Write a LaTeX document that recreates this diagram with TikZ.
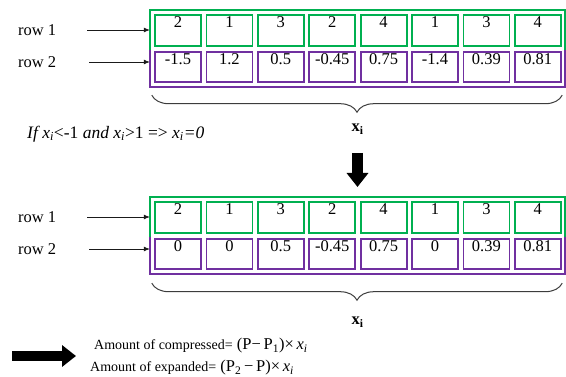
\documentclass[tikz,border=0pt]{standalone}
\usepackage{fontspec}
\setmainfont{Liberation Serif}
\usetikzlibrary{arrows.meta,decorations.pathreplacing}
\definecolor{Grn}{HTML}{00B050}
\definecolor{Prp}{HTML}{7030A0}
\definecolor{Ink}{HTML}{1A1A1A}

\begin{document}
\begin{tikzpicture}[
  x=1pt, y=-1pt,
  font=\fontsize{16.5}{19}\selectfont,
  >=Latex,
  lbl/.style={inner sep=0pt, anchor=west},
  frm/.style={inner sep=0pt, minimum width=415pt},
  gline/.style={draw=Grn, line width=1.5pt},
  pline/.style={draw=Prp, line width=1.5pt},
  cellg/.style={draw=Grn, fill=white, line width=1.8pt, inner xsep=0pt, inner ysep=3pt, minimum width=46pt, text height=10pt, text depth=15pt},
  cellp/.style={draw=Prp, fill=white, line width=1.8pt, inner xsep=0pt, inner ysep=3pt, minimum width=46pt, text height=10pt, text depth=14pt},
  rarr/.style={-{Latex[length=6pt,width=5pt]}, line width=0.7pt, draw=Ink},
  brc/.style={draw=Ink!85, line width=1pt, decorate, decoration={brace, mirror, amplitude=17pt}},
  fatarr/.style={draw=black, line width=11pt, -{Triangle[length=14pt,width=21pt]}},
]
\useasboundingbox (0,0) rectangle (566,377);

% first table
\node[frm, minimum height=40pt] (g1) at (357.5,30) {};
\node[frm, minimum height=37pt] (p1) at (357.5,68.5) {};
\draw[gline] (g1.south west) |- (g1.north east) -- (g1.south east);
\draw[pline] (p1.north west) |- (p1.south east) -- (p1.north east);
\foreach \v [count=\i from 0] in {2,1,3,2,4,1,3,4}
  \node[cellg] (a\i) at (178+51.4*\i,30.5) {\v};
\foreach \v [count=\i from 0] in {-1.5,1.2,0.5,-0.45,0.75,-1.4,0.39,0.81}
  \node[cellp] (b\i) at (178+51.4*\i,67) {\v};

\node[lbl] (r1) at (18,30) {row 1};
\node[lbl] (r2) at (18,62) {row 2};
\coordinate (s1) at (87,30);
\coordinate (s2) at (89,62);
\draw[rarr] (s1) -- (g1.west |- r1);
\draw[rarr] (s2) -- (p1.west |- r2);

\draw[brc] ([xshift=2pt,yshift=-8pt]p1.south west) -- ([xshift=-3pt,yshift=-8pt]p1.south east);
\node (xa) at (357.5,129) {\textbf{x}\textsubscript{\textbf{i}}};

\node[lbl, font=\fontsize{17.5}{20}\selectfont] (rule) at (27,134) {\textit{If x\textsubscript{i}}<-1 \textit{and x\textsubscript{i}}>1 => \textit{x\textsubscript{i}=0}};

\coordinate (d0) at (357.5,153);
\coordinate (d1) at (357.5,187);
\draw[fatarr] (d0) -- (d1);

% second table
\node[frm, minimum height=40pt] (g2) at (357.5,217) {};
\node[frm, minimum height=37pt] (p2) at (357.5,255.5) {};
\draw[gline] (g2.south west) |- (g2.north east) -- (g2.south east);
\draw[pline] (p2.north west) |- (p2.south east) -- (p2.north east);
\foreach \v [count=\i from 0] in {2,1,3,2,4,1,3,4}
  \node[cellg] (c\i) at (178+51.4*\i,217.5) {\v};
\foreach \v [count=\i from 0] in {0,0,0.5,-0.45,0.75,0,0.39,0.81}
  \node[cellp] (e\i) at (178+51.4*\i,254) {\v};

\node[lbl] (r3) at (18,217) {row 1};
\node[lbl] (r4) at (18,249) {row 2};
\coordinate (s3) at (87,217);
\coordinate (s4) at (89,249);
\draw[rarr] (s3) -- (g2.west |- r3);
\draw[rarr] (s4) -- (p2.west |- r4);

\draw[brc] ([xshift=2pt,yshift=-9pt]p2.south west) -- ([xshift=-3pt,yshift=-9pt]p2.south east);
\node (xb) at (357.5,322) {\textbf{x}\textsubscript{\textbf{i}}};

% amounts
\coordinate (h0) at (12,356);
\coordinate (h1) at (76,356);
\draw[fatarr, line width=10pt] (h0) -- (h1);
\node[inner sep=0pt, anchor=base west] (cmp) at (94,350)
  {{\fontsize{14}{16}\selectfont Amount of compressed=} (P−\,P\textsubscript{1})×\,\textit{x\textsubscript{i}}};
\node[inner sep=0pt, anchor=base west] (exp) at (90,372)
  {{\fontsize{14}{16}\selectfont Amount of expanded=} (P\textsubscript{2}\,−\,P)×\,\textit{x\textsubscript{i}}};
\end{tikzpicture}
\end{document}
